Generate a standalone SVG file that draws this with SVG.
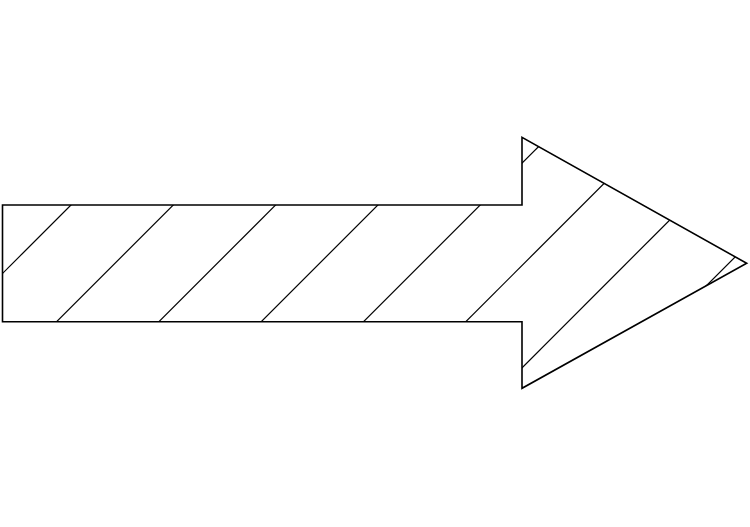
<svg xmlns="http://www.w3.org/2000/svg" width="750" height="527" viewBox="0 0 750 527">
  <style>
    .outline { fill: none; stroke: #000; stroke-width: 1.6; stroke-linejoin: miter; }
    .hatch { stroke: #000; stroke-width: 1.2; fill: none; }
  </style>
  <defs>
    <clipPath id="arrowClip">
      <polygon points="2.5,205 522,205 522,137.3 746.7,263.3 522,388.3 522,321.7 2.5,321.7"/>
    </clipPath>
  </defs>
  <rect width="750" height="527" fill="#fff"/>
  <g id="arrow">
    <g id="hatching" clip-path="url(#arrowClip)">
      <line class="hatch" x1="-124" y1="400" x2="146" y2="130"/>
      <line class="hatch" x1="-21.7" y1="400" x2="248.3" y2="130"/>
      <line class="hatch" x1="80.6" y1="400" x2="350.6" y2="130"/>
      <line class="hatch" x1="182.9" y1="400" x2="452.9" y2="130"/>
      <line class="hatch" x1="285.2" y1="400" x2="555.2" y2="130"/>
      <line class="hatch" x1="387.5" y1="400" x2="657.5" y2="130"/>
      <line class="hatch" x1="489.8" y1="400" x2="759.8" y2="130"/>
      <line class="hatch" x1="592.1" y1="400" x2="862.1" y2="130"/>
    </g>
    <polygon class="outline" points="2.5,205 522,205 522,137.3 746.7,263.3 522,388.3 522,321.7 2.5,321.7"/>
  </g>
</svg>
